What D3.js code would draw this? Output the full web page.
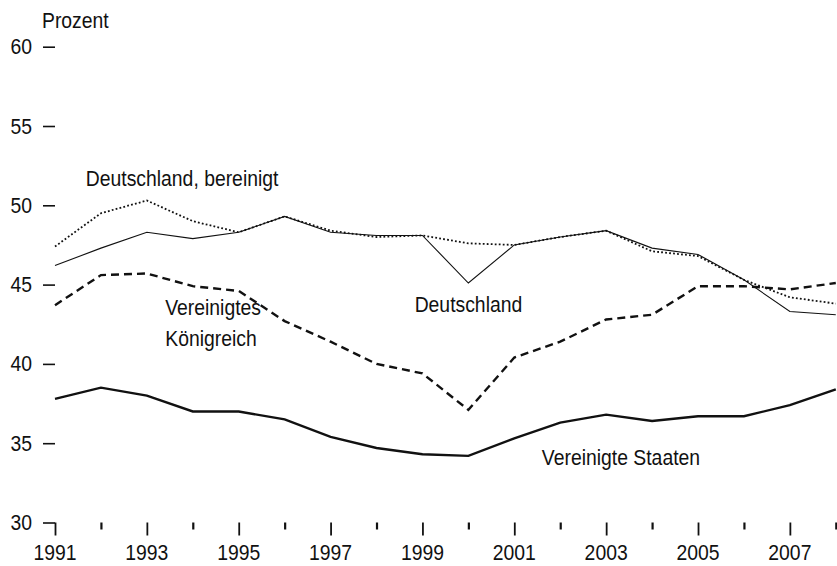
<!DOCTYPE html>
<html>
<head>
<meta charset="utf-8">
<script src="https://cdn.jsdelivr.net/npm/d3@7"></script>
<style>
  html, body { margin: 0; padding: 0; background: #fff; }
  svg { display: block; }
  text { font-family: "Liberation Sans", Arial, sans-serif; fill: #111; }
</style>
</head>
<body>
<svg id="chart" width="837" height="566"></svg>
<script>
// Jahre und Anteile in Prozent
const years = [1991, 1992, 1993, 1994, 1995, 1996, 1997, 1998, 1999,
               2000, 2001, 2002, 2003, 2004, 2005, 2006, 2007, 2008];

const deutschland = [46.2, 47.3, 48.3, 47.9, 48.3, 49.3, 48.3, 48.1, 48.1,
                     45.1, 47.5, 48.0, 48.4, 47.3, 46.9, 45.3, 43.3, 43.1];
const deutschlandBereinigt = [47.4, 49.5, 50.3, 49.0, 48.3, 49.3, 48.4, 48.0, 48.1,
                              47.6, 47.5, 48.0, 48.4, 47.1, 46.8, 45.3, 44.2, 43.8];
const vereinigtesKoenigreich = [43.7, 45.6, 45.7, 44.9, 44.6, 42.7, 41.4, 40.0, 39.4,
                                37.1, 40.4, 41.4, 42.8, 43.1, 44.9, 44.9, 44.7, 45.1];
const vereinigteStaaten = [37.8, 38.5, 38.0, 37.0, 37.0, 36.5, 35.4, 34.7, 34.3,
                           34.2, 35.3, 36.3, 36.8, 36.4, 36.7, 36.7, 37.4, 38.4];

const yTicks = [30, 35, 40, 45, 50, 55, 60];
const xLabelYears = [1991, 1993, 1995, 1997, 1999, 2001, 2003, 2005, 2007];

const svg = d3.select("#chart");

const x = d3.scaleLinear().domain([1991, 2008]).range([55, 835.8]);
const y = d3.scaleLinear().domain([30, 60]).range([522.5, 46.7]);

const FONT = 22, SQUEEZE = 0.88;

// Text with a slightly condensed face
function label(g, tx, ty, str, anchor) {
  g.append("text")
    .attr("transform", `translate(${tx},${ty}) scale(${SQUEEZE},1)`)
    .attr("text-anchor", anchor || "start")
    .style("font-size", FONT + "px")
    .text(str);
}

// y axis: short ticks, labels at the left
const yAxis = d3.axisLeft(y).tickValues(yTicks).tickSize(12).tickPadding(0).tickFormat("");
const ya = svg.append("g").attr("transform", "translate(55,0)").call(yAxis);
ya.select(".domain").remove();
ya.selectAll(".tick line").attr("stroke", "#111").attr("stroke-width", 1.6);
yTicks.forEach(v => label(svg, 32, y(v) + 7.5, String(v), "end"));

// x axis: long ticks on odd years, short on even years, hanging below 30
const xAxis = d3.axisBottom(x).tickValues(years).tickSize(0).tickFormat("");
const xa = svg.append("g").attr("transform", `translate(0,${y(30)})`).call(xAxis);
xa.select(".domain").remove();
xa.selectAll(".tick line")
  .attr("y2", d => (d % 2 === 1 ? 13 : 7))
  .attr("stroke", "#111")
  .attr("stroke-width", d => (d % 2 === 1 ? 1.8 : 2.2));
xLabelYears.forEach(v => label(svg, x(v), 560, String(v), "middle"));

label(svg, 42, 28, "Prozent");

// Series
const line = d3.line().x((d, i) => x(years[i])).y(d => y(d));

svg.append("path").datum(deutschlandBereinigt)
  .attr("d", line).attr("fill", "none").attr("stroke", "#111")
  .attr("stroke-width", 1.8).attr("stroke-dasharray", "1.8,2.2");

svg.append("path").datum(deutschland)
  .attr("d", line).attr("fill", "none").attr("stroke", "#111")
  .attr("stroke-width", 1.1);

svg.append("path").datum(vereinigtesKoenigreich)
  .attr("d", line).attr("fill", "none").attr("stroke", "#111")
  .attr("stroke-width", 2.4).attr("stroke-dasharray", "8,5");

svg.append("path").datum(vereinigteStaaten)
  .attr("d", line).attr("fill", "none").attr("stroke", "#111")
  .attr("stroke-width", 2.4);

// Series labels
label(svg, x(1991.67), y(51.2), "Deutschland, bereinigt");
label(svg, x(1993.4), y(43.1), "Vereinigtes");
label(svg, x(1993.4), y(41.1), "Königreich");
label(svg, x(1998.83), y(43.3), "Deutschland");
label(svg, x(2001.6), y(33.6), "Vereinigte Staaten");
</script>
</body>
</html>
